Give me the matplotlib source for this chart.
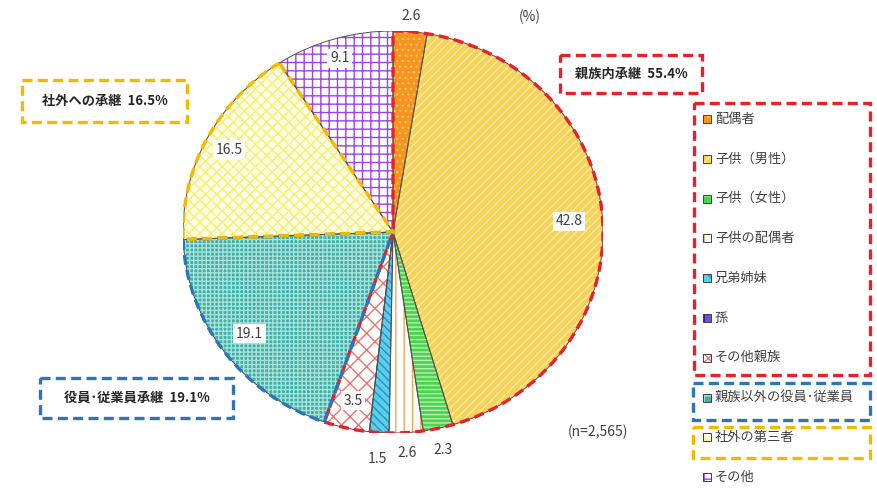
import numpy as np
import matplotlib
matplotlib.use('Agg')
import matplotlib.pyplot as plt
from matplotlib.patches import Wedge, Rectangle

plt.rcParams['font.family'] = ['Noto Sans CJK JP', 'DejaVu Sans']
plt.rcParams['hatch.linewidth'] = 1.0

# data
categories = ['配偶者', '子供（男性）', '子供（女性）', '子供の配偶者', '兄弟姉妹', '孫',
              'その他親族', '親族以外の役員･従業員', '社外の第三者', 'その他']
values = [2.6, 42.8, 2.3, 2.6, 1.5, 0.0, 3.5, 19.1, 16.5, 9.1]
group_names = ['親族内承継', '役員･従業員承継', '社外への承継']
group_members = [[0, 1, 2, 3, 4, 5, 6], [7], [8]]
group_totals = [55.4, 19.1, 16.5]
n_total = '2,565'

# styles: face, hatch, hatch colour
styles = [
    ('#F7941D', '...', '#FBBF6A'),
    ('#F6D258', '////', '#FCEBA8'),
    ('#4CD44C', '----', '#B6F0B6'),
    ('white', '||', '#F5A45A'),
    ('#5BCFE6', '\\\\\\\\', '#2A8FD0'),
    ('#5B5BD6', '|||', '#2020A0'),
    ('white', 'xx', '#F07070'),
    ('#3DB0A8', '++++', '#A8E0DA'),
    ('#FFFDE0', 'xxx', '#F2EE7A'),
    ('white', '++', '#A040F0'),
]
group_colors = ['#E8202A', '#2E75B6', '#F5B800']

fig = plt.figure(figsize=(8.77, 4.88), dpi=100)
W, H = 877, 488

# pie axes placed by pixel box (slightly elliptical like the reference)
cx, cy, rx, ry = 393, 232, 210, 201
ax = fig.add_axes([(cx - rx) / W, 1 - (cy + ry) / H, 2 * rx / W, 2 * ry / H])
wedges, _ = ax.pie(values, startangle=90, counterclock=False, radius=1,
                   wedgeprops=dict(linewidth=0))
ax.set_aspect('auto')
ax.set_xlim(-1, 1)
ax.set_ylim(-1, 1)
ax.axis('off')

for w, (fc, hatch, hc) in zip(wedges, styles):
    w.set_facecolor(fc)
    w.set_hatch(hatch)
    w.set_edgecolor(hc)
    ax.add_patch(Wedge((0, 0), 1, w.theta1, w.theta2, fill=False,
                       edgecolor='#505050', linewidth=0.7, zorder=3))

# group outlines (dashed)
for members, col in zip(group_members, group_colors):
    t1 = min(wedges[i].theta1 for i in members)
    t2 = max(wedges[i].theta2 for i in members)
    ax.add_patch(Wedge((0, 0), 1, t1, t2, fill=False, edgecolor=col,
                       linewidth=2.4, linestyle=(0, (3, 1.6)), zorder=4))

# value labels
label_r = [1.08, 0.84, 1.11, 1.10, 1.13, None, 0.86, 0.85, 0.88, 0.90]
for w, v, r in zip(wedges, values, label_r):
    if r is None:
        continue
    ang = np.deg2rad((w.theta1 + w.theta2) / 2)
    x, y = r * np.cos(ang), r * np.sin(ang)
    box = dict(facecolor='white', edgecolor='none', pad=2) if r < 1 else None
    ax.text(x, y, f'{v:.1f}', ha='center', va='center', fontsize=10,
            color='#404040', bbox=box, zorder=5, clip_on=False)

# overlay axes in pixel coordinates for boxes and legend
ov = fig.add_axes([0, 0, 1, 1], zorder=2)
ov.set_xlim(0, W)
ov.set_ylim(H, 0)
ov.axis('off')

dash = (0, (3, 1.6))

# group label boxes
group_boxes = [(560, 55, 142, 38), (40, 378, 193, 40), (22, 80, 165, 42)]
for name, tot, (bx, by, bw, bh), col in zip(group_names, group_totals, group_boxes, group_colors):
    ov.add_patch(Rectangle((bx, by), bw, bh, fill=False, edgecolor=col,
                           linewidth=2.4, linestyle=dash))
    ov.text(bx + bw / 2, by + bh / 2, f'{name}  {tot}%', ha='center', va='center',
            fontsize=9.5, fontweight='bold', color='#262626')

ov.text(530, 17, '(%)', ha='center', va='center', fontsize=10, color='#404040')
ov.text(598, 432, f'(n={n_total})', ha='center', va='center', fontsize=10, color='#404040')

# legend
row0, step = 119, 39.8
for i, (cat, (fc, hatch, hc)) in enumerate(zip(categories, styles)):
    y = row0 + step * i
    ov.add_patch(Rectangle((703, y - 4), 8, 8, facecolor=fc, hatch=hatch[:2],
                           edgecolor=hc, linewidth=0))
    ov.add_patch(Rectangle((703, y - 4), 8, 8, fill=False, edgecolor='#404040', linewidth=0.7))
    ov.text(715, y, cat, ha='left', va='center', fontsize=9.5, color='#404040')

legend_boxes = [(694, 103, 176, 272), (693, 383, 177, 37), (693, 427, 177, 31)]
for (bx, by, bw, bh), col in zip(legend_boxes, group_colors):
    ov.add_patch(Rectangle((bx, by), bw, bh, fill=False, edgecolor=col,
                           linewidth=2.4, linestyle=dash))

fig.savefig('out.png', dpi=100)
